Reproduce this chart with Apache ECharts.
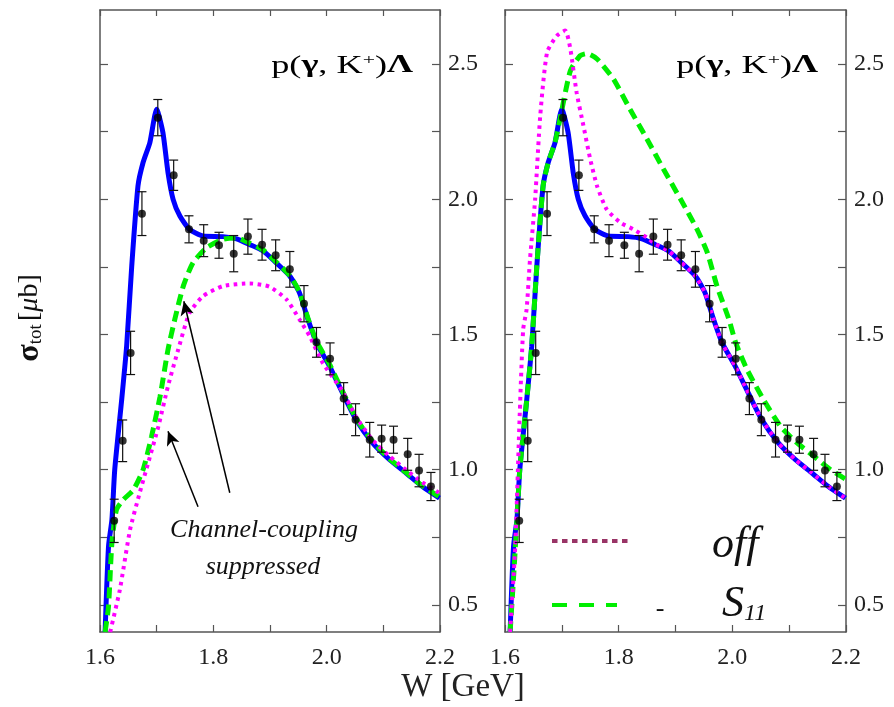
<!DOCTYPE html>
<html>
<head>
<meta charset="utf-8">
<script src="https://cdn.jsdelivr.net/npm/echarts@6/dist/echarts.min.js"></script>
<style>html,body{margin:0;padding:0;background:#fff}#c{width:894px;height:707px}</style>
</head>
<body>
<div id="c"></div>
<script>
// ---- data ----
const dataW   = [1.625,1.640,1.654,1.674,1.702,1.730,1.757,1.783,1.810,1.836,1.861,1.886,1.910,1.935,1.960,1.982,2.006,2.030,2.051,2.076,2.097,2.118,2.143,2.163,2.184];
const dataSig = [0.811,1.107,1.432,1.947,2.302,2.089,1.889,1.847,1.830,1.799,1.862,1.832,1.793,1.741,1.614,1.471,1.410,1.263,1.185,1.111,1.115,1.111,1.057,0.997,0.938];
const dataErr = [0.080,0.077,0.080,0.081,0.067,0.056,0.050,0.059,0.048,0.067,0.065,0.057,0.057,0.066,0.067,0.055,0.059,0.059,0.059,0.064,0.050,0.050,0.059,0.060,0.052];

// full model (blue solid), both panels
const fullW = [1.609,1.615,1.621,1.626,1.638,1.647,1.656,1.667,1.676,1.688,1.700,1.711,1.720,1.729,1.741,1.758,1.782,1.817,1.841,1.864,1.888,1.911,1.935,1.952,1.967,1.982,2.005,2.028,2.052,2.081,2.111,2.140,2.169,2.199];
const fullS = [0.400,0.716,0.815,1.000,1.253,1.457,1.753,2.049,2.136,2.210,2.333,2.247,2.099,2.000,1.938,1.889,1.864,1.862,1.854,1.833,1.809,1.765,1.716,1.654,1.556,1.469,1.383,1.284,1.185,1.099,1.037,0.988,0.938,0.895];

// left panel: channel-coupling suppressed (green dashed)
const ccGreenW = [1.609,1.615,1.621,1.629,1.641,1.659,1.676,1.691,1.706,1.720,1.732,1.747,1.764,1.788,1.817,1.841,1.864,1.888,1.911,1.935,1.952,1.967,1.982,2.005,2.028,2.052,2.081,2.111,2.140,2.169,2.199];
const ccGreenS = [0.400,0.494,0.729,0.852,0.889,0.926,1.000,1.123,1.271,1.444,1.556,1.679,1.765,1.821,1.852,1.857,1.838,1.812,1.768,1.718,1.657,1.560,1.475,1.390,1.290,1.190,1.105,1.040,0.990,0.940,0.900];
// left panel: channel-coupling suppressed (magenta dotted)
const ccMagW = [1.618,1.635,1.653,1.670,1.685,1.703,1.720,1.738,1.758,1.782,1.817,1.864,1.899,1.929,1.952,1.970,1.993,2.028,2.052,2.081,2.111,2.140,2.169,2.199];
const ccMagS = [0.400,0.556,0.778,0.914,1.025,1.160,1.309,1.444,1.580,1.642,1.679,1.689,1.677,1.630,1.556,1.494,1.395,1.290,1.195,1.110,1.050,1.000,0.953,0.914];

// right panel: resonance "off" (magenta dotted)
const offW = [1.609,1.618,1.626,1.632,1.638,1.644,1.653,1.662,1.674,1.691,1.706,1.715,1.726,1.738,1.750,1.762,1.779,1.803,1.826,1.850,1.864,1.888,1.911,1.935,1.952,1.967,1.982,2.005,2.028,2.052,2.081,2.111,2.140,2.169,2.199];
const offS = [0.400,0.716,1.210,1.519,1.593,1.778,2.000,2.309,2.543,2.604,2.624,2.556,2.395,2.272,2.148,2.049,1.963,1.914,1.889,1.858,1.835,1.809,1.765,1.716,1.654,1.556,1.469,1.383,1.284,1.185,1.099,1.037,0.988,0.938,0.895];
// right panel: S11 (green dashed)
const s11W = [1.609,1.615,1.621,1.626,1.638,1.647,1.656,1.667,1.676,1.688,1.700,1.715,1.732,1.744,1.762,1.791,1.820,1.850,1.879,1.909,1.938,1.956,1.973,1.994,2.006,2.026,2.055,2.085,2.114,2.144,2.173,2.201];
const s11S = [0.400,0.600,0.815,1.000,1.253,1.457,1.753,2.049,2.136,2.210,2.330,2.475,2.531,2.539,2.519,2.444,2.333,2.222,2.111,2.000,1.889,1.803,1.679,1.556,1.469,1.370,1.259,1.160,1.099,1.049,1.000,0.963];

const xTicks = [1.6,1.7,1.8,1.9,2.0,2.1,2.2];
const xLabels = [1.6,1.8,2.0,2.2];
const yTicks = [0.5,0.75,1.0,1.25,1.5,1.75,2.0,2.25,2.5];
const yLabels = [0.5,1.0,1.5,2.0,2.5];

// ---- chart ----
const zip = (a,b) => a.map((v,i)=>[v,b[i]]);
const FONT = 'Liberation Serif';
const AX = '#555';
const BLUE = '#0000ff', GREEN = '#00ee00', MAG = '#ff00ff';

const grids = [
  {left:100, top:10, width:340, height:622},
  {left:505, top:10, width:341, height:622}
];
const xAxes = [], yAxes = [];
grids.forEach((g,gi)=>{
  xAxes.push({gridIndex:gi, type:'value', min:1.6, max:2.2, position:'bottom',
    axisLine:{lineStyle:{color:AX,width:1.5}}, splitLine:{show:false},
    axisTick:{inside:true,length:7,customValues:xTicks,lineStyle:{color:AX,width:1.2}},
    axisLabel:{customValues:xLabels,formatter:v=>v.toFixed(1),fontFamily:FONT,fontSize:24,color:'#222',margin:14}});
  xAxes.push({gridIndex:gi, type:'value', min:1.6, max:2.2, position:'top',
    axisLine:{lineStyle:{color:AX,width:1.5}}, splitLine:{show:false},
    axisTick:{inside:true,length:6,customValues:xTicks,lineStyle:{color:AX,width:1.2}},
    axisLabel:{show:false}});
  yAxes.push({gridIndex:gi, type:'value', min:0.4, max:2.7, position:'left',
    axisLine:{show:true,lineStyle:{color:AX,width:1.5}}, splitLine:{show:false},
    axisTick:{show:true,inside:true,length:8,customValues:yTicks,lineStyle:{color:AX,width:1.2}},
    axisLabel:{show:false}});
  yAxes.push({gridIndex:gi, type:'value', min:0.4, max:2.7, position:'right',
    axisLine:{show:true,lineStyle:{color:AX,width:1.5}}, splitLine:{show:false},
    axisTick:{show:true,inside:true,length:8,customValues:yTicks,lineStyle:{color:AX,width:1.2}},
    axisLabel:{show:true,customValues:yLabels,formatter:v=>v.toFixed(1),fontFamily:FONT,fontSize:24,color:'#222',margin:8}});
});

function lineSeries(gi, W, S, color, type, width){
  return {type:'line', xAxisIndex:gi*2, yAxisIndex:gi*2, data:zip(W,S), showSymbol:false,
    smooth:0.2, clip:true, z:3,
    lineStyle:{color:color,width:width,type:type,cap:'butt'}};
}
function errSeries(gi){
  return {type:'custom', xAxisIndex:gi*2, yAxisIndex:gi*2, z:5,
    data: dataW.map((w,i)=>[w,dataSig[i],dataErr[i]]),
    renderItem:(params,api)=>{
      const x=api.value(0), y=api.value(1), e=api.value(2);
      const t=api.coord([x,y+e]), b=api.coord([x,y-e]);
      const hw=4.5, st={stroke:'#111',lineWidth:1.2};
      return {type:'group',children:[
        {type:'line',shape:{x1:t[0],y1:t[1],x2:b[0],y2:b[1]},style:st},
        {type:'line',shape:{x1:t[0]-hw,y1:t[1],x2:t[0]+hw,y2:t[1]},style:st},
        {type:'line',shape:{x1:b[0]-hw,y1:b[1],x2:b[0]+hw,y2:b[1]},style:st}
      ]};
    }};
}
function ptSeries(gi){
  return {type:'scatter', xAxisIndex:gi*2, yAxisIndex:gi*2, z:6,
    data: zip(dataW,dataSig), symbol:'circle', symbolSize:8, itemStyle:{color:'#000'}};
}

const series = [
  lineSeries(0, fullW, fullS, BLUE, 'solid', 5),
  lineSeries(0, ccGreenW, ccGreenS, GREEN, [11,6], 5),
  lineSeries(0, ccMagW, ccMagS, MAG, [3.5,4.5], 4),
  errSeries(0), ptSeries(0),
  lineSeries(1, fullW, fullS, BLUE, 'solid', 5),
  lineSeries(1, s11W, s11S, GREEN, [11,6], 5),
  lineSeries(1, offW, offS, MAG, [3.5,4.5], 4),
  errSeries(1), ptSeries(1)
];
// arrows (data coordinates) on left panel
series[3].markLine = {silent:true, symbol:['none','arrow'], symbolSize:[10,14], label:{show:false},
  lineStyle:{color:'#000',width:1.5,type:'solid'},
  data:[
    [{coord:[1.829,0.915]},{coord:[1.748,1.623]}],
    [{coord:[1.773,0.863]},{coord:[1.720,1.142]}]
  ]};

const titleRich = {
  n:{fontFamily:FONT,fontSize:25,color:'#111'},
  b:{fontFamily:FONT,fontSize:25,fontWeight:'bold',color:'#111'},
  sup:{fontFamily:FONT,fontSize:15,color:'#111',verticalAlign:'top',padding:[0,0,12,0]}
};
const titleText = '{n|p(}{b|γ}{n|, K}{sup|+}{n|)}{b|Λ}';

const graphic = [
  {type:'text', x:413, y:66, scaleX:1.45,
    style:{text:titleText, rich:titleRich, align:'right', verticalAlign:'middle'}},
  {type:'text', x:818, y:66, scaleX:1.45,
    style:{text:titleText, rich:titleRich, align:'right', verticalAlign:'middle'}},
  // x-axis name
  {type:'text', x:463, y:687, style:{text:'W [GeV]', fontFamily:FONT, fontSize:33, fill:'#222', align:'center', verticalAlign:'middle'}},
  // y-axis name
  {type:'text', x:30, y:318, rotation:Math.PI/2,
    style:{text:'{s|σ}{sub|tot} {n|[}{m|μ}{n|b]}', align:'center', verticalAlign:'middle',
      rich:{
        s:{fontFamily:FONT,fontSize:32,fontWeight:'bold',fill:'#111'},
        sub:{fontFamily:FONT,fontSize:19,fill:'#111',verticalAlign:'bottom',padding:[10,0,0,0]},
        n:{fontFamily:FONT,fontSize:28,fill:'#111'},
        m:{fontFamily:FONT,fontSize:28,fontStyle:'italic',fill:'#111'}
      }}},
  // annotation
  {type:'text', x:264, y:530, style:{text:'Channel-coupling', fontFamily:FONT, fontStyle:'italic', fontSize:26, fill:'#111', align:'center', verticalAlign:'middle'}},
  {type:'text', x:263, y:567, style:{text:'suppressed', fontFamily:FONT, fontStyle:'italic', fontSize:26, fill:'#111', align:'center', verticalAlign:'middle'}},
  // legend (right panel)
  {type:'line', shape:{x1:552,y1:541,x2:632,y2:541}, style:{stroke:'#993366',lineWidth:4,lineDash:[5.5,4.5]}},
  {type:'text', x:712, y:545, style:{text:'off', fontFamily:FONT, fontStyle:'italic', fontSize:44, fill:'#111', align:'left', verticalAlign:'middle'}},
  {type:'line', shape:{x1:552,y1:605,x2:617,y2:605}, style:{stroke:'#00ee00',lineWidth:4,lineDash:[15,12]}},
  {type:'text', x:660, y:609, style:{text:'-', fontFamily:FONT, fontStyle:'italic', fontSize:26, fill:'#111', align:'center', verticalAlign:'middle'}},
  {type:'text', x:722, y:604, style:{text:'{S|S}{sub|11}', align:'left', verticalAlign:'middle',
    rich:{S:{fontFamily:FONT,fontStyle:'italic',fontSize:44,fill:'#111'},
          sub:{fontFamily:FONT,fontStyle:'italic',fontSize:24,fill:'#111',verticalAlign:'bottom',padding:[14,0,0,0]}}}}
];

const chart = echarts.init(document.getElementById('c'), null, {renderer:'canvas'});
chart.setOption({
  animation:false,
  backgroundColor:'#fff',
  grid:grids, xAxis:xAxes, yAxis:yAxes, series:series, graphic:graphic
});
</script>
</body>
</html>
